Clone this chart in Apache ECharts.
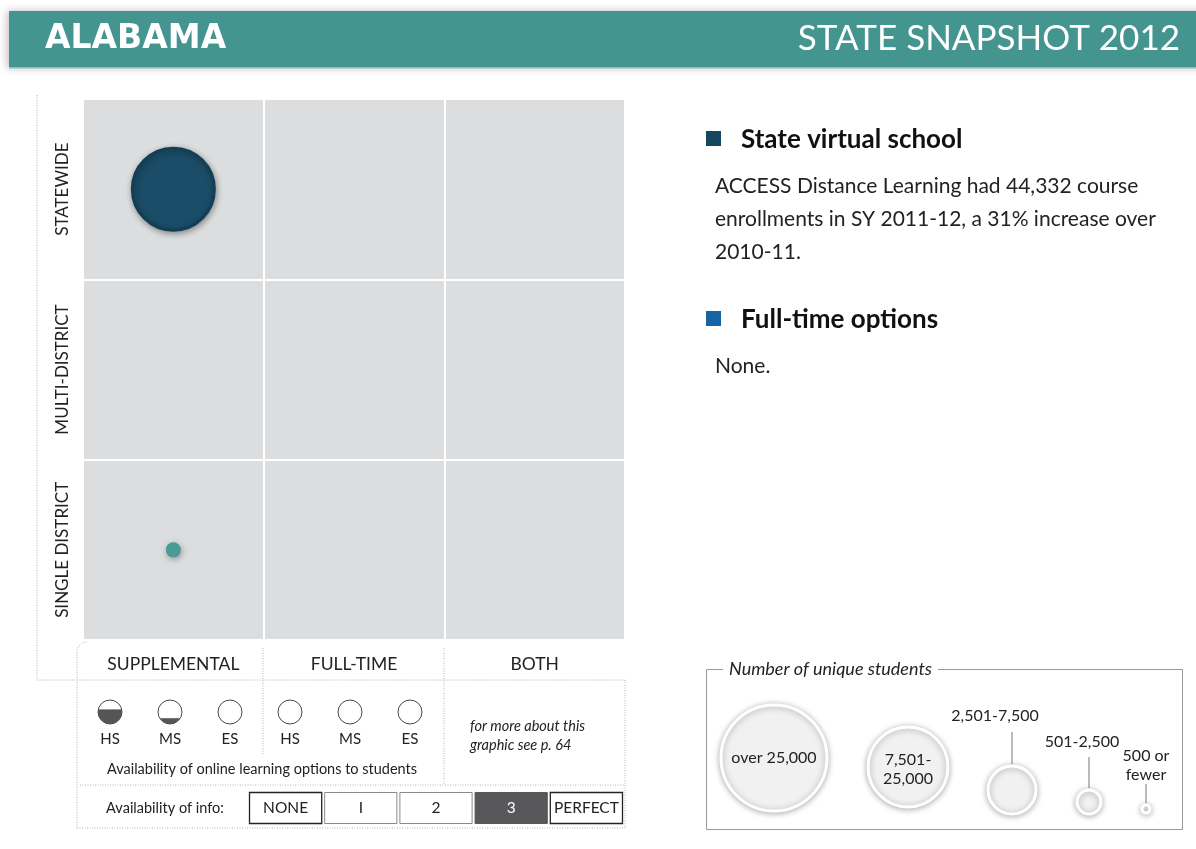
<!DOCTYPE html>
<html><head><meta charset="utf-8">
<script src="https://cdn.jsdelivr.net/npm/echarts@6/dist/echarts.min.js"></script>
<style>html,body{margin:0;padding:0;background:#fff}#c{width:1196px;height:849px}</style>
</head><body><div id="c"></div>
<script>
// ---------- DATA ----------
const stateName = 'ALABAMA';
const snapshotTitle = 'STATE SNAPSHOT 2012';
const deliveryTypes = ['SUPPLEMENTAL', 'FULL-TIME', 'BOTH'];
const scopeLevels = ['SINGLE DISTRICT', 'MULTI-DISTRICT', 'STATEWIDE'];
// online programs: delivery type, scope, student-count bucket (index into sizeBuckets)
const programDelivery = ['SUPPLEMENTAL', 'SUPPLEMENTAL'];
const programScope = ['STATEWIDE', 'SINGLE DISTRICT'];
const programBucket = [0, 3];
const sizeBuckets = ['over 25,000', '7,501-\n25,000', '2,501-7,500', '501-2,500', '500 or\nfewer'];
// availability of online learning options (share of students, 0..1)
const levelLabels = ['HS', 'MS', 'ES', 'HS', 'MS', 'ES'];
const availabilityShare = [0.6, 0.22, 0, 0, 0, 0];
// availability of info
const infoLevels = ['NONE', 'I', '2', '3', 'PERFECT'];
const infoRating = '3';
// text blocks
const sectionTitles = ['State virtual school', 'Full-time options'];
const sectionTexts = [
  'ACCESS Distance Learning had 44,332 course\nenrollments in SY 2011-12, a 31% increase over\n2010-11.',
  'None.'
];

// ---------- STYLE ----------
const FONT = 'Lato, "Open Sans", sans-serif';
const TXT = '#222';
const gridBubbleSize = [82, 60, 36, 15, 6];
const scopeStyle = {
  'STATEWIDE': { color: '#1b4d68', borderColor: '#123f56', borderWidth: 3 },
  'MULTI-DISTRICT': { color: '#2f7f93', borderColor: '#2f7f93', borderWidth: 0 },
  'SINGLE DISTRICT': { color: '#4a9a95', borderColor: '#4a9a95', borderWidth: 0 }
};
const legendPos = [[774, 758, 53], [908, 767, 40], [1012, 790, 24], [1089, 802, 12], [1146, 809, 4]];
const legendLabelPos = [null, null, [995, 716, 732], [1082, 742, 757], [1146, 765, 784]];
const sectionColors = ['#174660', '#1565a6'];

const chart = echarts.init(document.getElementById('c'));

const scatterData = programDelivery.map((d, i) => ({
  value: [d, programScope[i], programBucket[i]],
  itemStyle: Object.assign({
    opacity: 1, shadowBlur: 6, shadowColor: 'rgba(0,0,0,0.35)', shadowOffsetX: 1, shadowOffsetY: 2
  }, scopeStyle[programScope[i]])
}));

function segmentPoints(cx, cy, r, f) {
  const dy = r - 2 * r * f; // fill line offset from centre (down positive)
  const t0 = Math.asin(Math.max(-1, Math.min(1, dy / r)));
  const pts = [];
  const n = 40;
  for (let k = 0; k <= n; k++) {
    const t = t0 + (Math.PI - 2 * t0) * k / n;
    pts.push([cx + r * Math.cos(t), cy + r * Math.sin(t)]);
  }
  return pts;
}

function dotted(points) {
  return { type: 'polyline', shape: { points }, silent: true,
    style: { stroke: '#b5b5b5', lineWidth: 1, lineDash: [1, 1.5], fill: null } };
}
function cornerPts() {
  const pts = [[77, 828], [77, 652]];
  for (let k = 1; k <= 8; k++) {
    const t = Math.PI + (Math.PI / 2) * k / 8;
    pts.push([87 + 10 * Math.cos(t), 652 + 10 * Math.sin(t)]);
  }
  return pts;
}

const graphics = [
  { type: 'rect', shape: { x: 9, y: 11, width: 1200, height: 57 },
    style: { fill: '#44948f', shadowBlur: 8, shadowColor: 'rgba(0,0,0,0.25)', shadowOffsetX: -2 } },
  { type: 'rect', shape: { x: 9, y: 67, width: 1200, height: 1.5 }, style: { fill: '#8cc2be' } },
  { type: 'text', x: 45, y: 39, style: { text: stateName, fill: '#fff', font: 'bold 33px "DejaVu Sans"', verticalAlign: 'middle' } },
  { type: 'text', x: 1180, y: 39, style: { text: snapshotTitle, fill: '#fff', font: '35px ' + FONT, align: 'right', verticalAlign: 'middle' } },
  dotted([[37, 95], [37, 680], [625, 680]]),
  dotted(cornerPts()),
  dotted([[77, 828], [625, 828], [625, 680]]),
  dotted([[80, 785], [625, 785]]),
  dotted([[263, 648], [263, 755]]),
  dotted([[444, 648], [444, 785]]),
  { type: 'text', x: 262, y: 769, style: { text: 'Availability of online learning options to students', fill: TXT, font: '14.5px ' + FONT, align: 'center', verticalAlign: 'middle' } },
  { type: 'text', x: 470, y: 736, style: { text: 'for more about this\ngraphic see p. 64', fill: TXT, font: 'italic 14.5px ' + FONT, lineHeight: 19, verticalAlign: 'middle' } },
  { type: 'text', x: 165, y: 808, style: { text: 'Availability of info:', fill: TXT, font: '14.5px ' + FONT, align: 'center', verticalAlign: 'middle' } },
  { type: 'rect', shape: { x: 706.5, y: 669.5, width: 476, height: 160 }, style: { fill: null, stroke: '#9a9a9a', lineWidth: 1 } },
  { type: 'text', x: 723, y: 669, style: { text: 'Number of unique students', fill: TXT, font: 'italic 18px ' + FONT, verticalAlign: 'middle', backgroundColor: '#fff', padding: [0, 6] } }
];

sizeBuckets.forEach((lab, i) => {
  const [cx, cy, r] = legendPos[i];
  graphics.push({ type: 'circle', shape: { cx, cy, r },
    style: { fill: '#f1f1f1', stroke: '#fff', lineWidth: 3, shadowBlur: 6, shadowColor: 'rgba(0,0,0,0.3)', shadowOffsetY: 1 } });
  if (i < 2) {
    graphics.push({ type: 'text', x: cx, y: cy + (i === 1 ? 2 : 0), z: 10,
      style: { text: lab, fill: TXT, font: '16px ' + FONT, align: 'center', verticalAlign: 'middle', lineHeight: 19 } });
  } else {
    const [lx, ly, lineTop] = legendLabelPos[i];
    graphics.push({ type: 'text', x: lx, y: ly,
      style: { text: lab, fill: TXT, font: '16px ' + FONT, align: 'center', verticalAlign: 'middle', lineHeight: 19 } });
    graphics.push({ type: 'line', shape: { x1: cx, y1: lineTop, x2: cx, y2: cy - r - 2 },
      style: { stroke: '#777', lineWidth: 1 } });
  }
});

sectionTitles.forEach((t, i) => {
  const y0 = [140, 320][i];
  graphics.push({ type: 'rect', shape: { x: 706, y: y0 - 9, width: 15, height: 15 }, style: { fill: sectionColors[i] } });
  graphics.push({ type: 'text', x: 741, y: y0, style: { text: t, fill: '#111', font: 'bold 26px ' + FONT, verticalAlign: 'middle' } });
  graphics.push({ type: 'text', x: 715, y: y0 + 30, style: { text: sectionTexts[i], fill: TXT, font: '21px ' + FONT, lineHeight: 33, verticalAlign: 'top' } });
});

const option = {
  animation: false,
  grid: [
    { left: 83, top: 99, width: 542, height: 541, show: true, backgroundColor: '#dcdddf', borderWidth: 0 },
    { left: 80, top: 700, width: 360, height: 24 },
    { left: 248, top: 792, width: 376, height: 32 }
  ],
  xAxis: [
    { gridIndex: 0, type: 'category', data: deliveryTypes,
      axisLine: { show: false }, axisTick: { show: false },
      axisLabel: { fontFamily: FONT, fontSize: 17.5, color: TXT, margin: 15 },
      splitLine: { show: true, interval: 0, lineStyle: { color: '#fff', width: 2 } } },
    { gridIndex: 1, type: 'category', data: levelLabels,
      axisLine: { show: false }, axisTick: { show: false },
      axisLabel: { fontFamily: FONT, fontSize: 15, color: TXT, margin: 8, interval: 0 } },
    { gridIndex: 2, type: 'category', data: infoLevels, show: false }
  ],
  yAxis: [
    { gridIndex: 0, type: 'category', data: scopeLevels,
      axisLine: { show: false }, axisTick: { show: false },
      axisLabel: { fontFamily: FONT, fontSize: 17, color: TXT, rotate: 90, margin: 12 },
      splitLine: { show: true, interval: 0, lineStyle: { color: '#fff', width: 2 } } },
    { gridIndex: 1, type: 'value', min: 0, max: 1, show: false },
    { gridIndex: 2, type: 'value', min: 0, max: 1, show: false }
  ],
  series: [
    { type: 'scatter', xAxisIndex: 0, yAxisIndex: 0, data: scatterData,
      symbolSize: v => gridBubbleSize[v[2]] },
    { type: 'custom', xAxisIndex: 1, yAxisIndex: 1,
      data: availabilityShare.map((v, i) => [i, v]),
      renderItem: (params, api) => {
        const c = api.coord([api.value(0), 0.5]);
        const r = 12;
        const f = api.value(1);
        const children = [{ type: 'circle', shape: { cx: c[0], cy: c[1], r }, style: { fill: '#fff', stroke: '#444', lineWidth: 1 } }];
        if (f > 0) children.push({ type: 'polygon', shape: { points: segmentPoints(c[0], c[1], r - 0.5, f) }, style: { fill: '#555', stroke: '#444', lineWidth: 0.5 } });
        return { type: 'group', children };
      } },
    { type: 'custom', xAxisIndex: 2, yAxisIndex: 2,
      data: infoLevels.map((l, i) => [i, 1]),
      renderItem: (params, api) => {
        const i = api.value(0);
        const lab = infoLevels[i];
        const c = api.coord([i, 1]);
        const bw = api.size([1, 0])[0];
        const h = api.size([0, 1])[1];
        const sel = lab === infoRating;
        const edge = (i === 0 || i === infoLevels.length - 1);
        return { type: 'group', children: [
          { type: 'rect', shape: { x: c[0] - bw / 2 + 1.5, y: c[1] + 0.5, width: bw - 3, height: h - 1 },
            style: { fill: sel ? '#58585a' : '#fff', stroke: sel ? '#58585a' : (edge ? '#222' : '#8a8a8a'), lineWidth: edge ? 1.3 : 1 } },
          { type: 'text', x: c[0], y: c[1] + h / 2,
            style: { text: lab, fill: sel ? '#fff' : TXT, font: '15.5px ' + FONT, align: 'center', verticalAlign: 'middle' } }
        ] };
      } }
  ],
  graphic: graphics
};
chart.setOption(option);
</script>
</body></html>
